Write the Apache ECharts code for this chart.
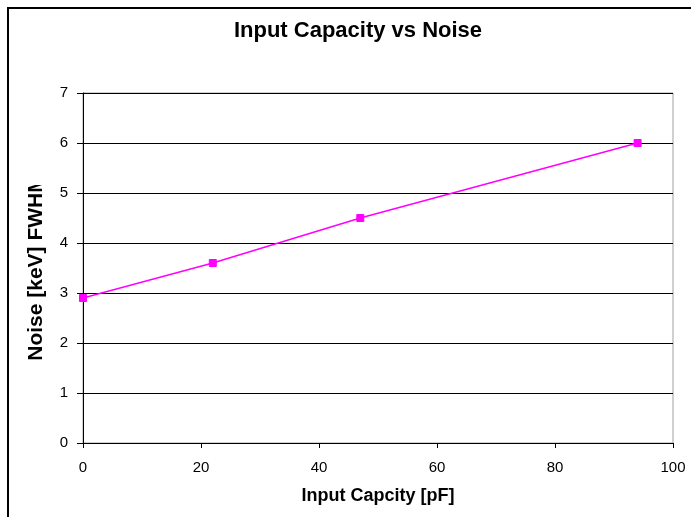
<!DOCTYPE html>
<html><head><meta charset="utf-8">
<script src="https://cdn.jsdelivr.net/npm/echarts@6/dist/echarts.min.js"></script>
<style>html,body{margin:0;padding:0;background:#fff}#c{width:691px;height:517px}
#frame{position:absolute;left:7px;top:7px;width:700px;height:530px;border:2px solid #000;pointer-events:none}</style>
</head><body><div id="c"></div><div id="frame"></div>
<script>
const capacity = [0, 22, 47, 94];
const noise = [2.9, 3.6, 4.5, 6.0];
const xTicks = [0, 20, 40, 60, 80, 100];
const yTicks = [0, 1, 2, 3, 4, 5, 6, 7];
const font = 'Liberation Sans, Arial, sans-serif';
const chart = echarts.init(document.getElementById('c'));
chart.setOption({
  animation: false,
  title: {text: 'Input Capacity vs Noise', left: 353, top: 15, textAlign: 'center',
    textStyle: {fontFamily: font, fontSize: 22, fontWeight: 'bold', color: '#000'}},
  grid: {left: 83, right: 18, top: 93, bottom: 74, show: true, borderColor: '#a0a0a0', borderWidth: 1, backgroundColor: '#fff'},
  xAxis: {type: 'value', min: xTicks[0], max: xTicks[xTicks.length-1], interval: 20,
    name: 'Input Capcity [pF]', nameLocation: 'middle', nameGap: 44,
    nameTextStyle: {fontFamily: font, fontSize: 18, fontWeight: 'bold', color: '#000'},
    axisLine: {onZero: false, lineStyle: {color: '#000', width: 1}},
    axisTick: {show: true, inside: false, length: 5, lineStyle: {color: '#000'}},
    axisLabel: {fontFamily: font, fontSize: 15, color: '#000', margin: 17},
    splitLine: {show: false}},
  yAxis: {type: 'value', min: yTicks[0], max: yTicks[yTicks.length-1], interval: 1,
    name: 'Noise [keV] FWHM', nameLocation: 'middle', nameGap: 36,
    nameTextStyle: {fontFamily: font, fontSize: 21, fontWeight: 'bold', color: '#000'},
    axisLine: {show: true, lineStyle: {color: '#000', width: 1}},
    axisTick: {show: true, inside: false, length: 6, lineStyle: {color: '#000'}},
    axisLabel: {fontFamily: font, fontSize: 15, color: '#000', margin: 15},
    splitLine: {show: true, lineStyle: {color: '#000', width: 1}}},
  graphic: [{type: 'rect', left: 24, top: 100, z: 100,
    shape: {width: 28, height: 85}, style: {fill: '#fff'}}],
  series: [{type: 'line', data: capacity.map((x, i) => [x, noise[i]]),
    symbol: 'rect', symbolSize: 7, showAllSymbol: true,
    lineStyle: {color: '#ff00ff', width: 1.5},
    itemStyle: {color: '#ff00ff', borderColor: '#ff00ff'}}]
});
</script></body></html>
